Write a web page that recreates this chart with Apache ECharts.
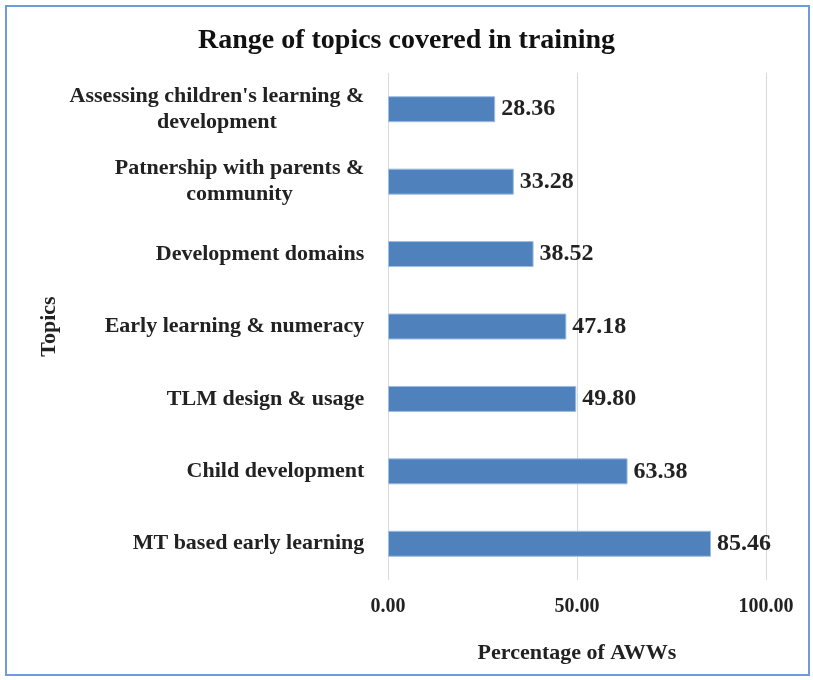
<!DOCTYPE html>
<html>
<head>
<meta charset="utf-8">
<script src="https://cdn.jsdelivr.net/npm/echarts@6/dist/echarts.min.js"></script>
<style>
    html, body { margin: 0; padding: 0; background: #fff; }
    #wrap { position: absolute; left: 5px; top: 5px; width: 801px; height: 667px; border: 2px solid #6f9bd8; }
    #chart { position: absolute; left: -7px; top: -7px; width: 813px; height: 680px; }
</style>
</head>
<body>
<div id="wrap"><div id="chart"></div></div>
<script>
// topics, bottom to top as they sit on the axis
var topics = [
    'MT based early learning',
    'Child development',
    'TLM design & usage',
    'Early learning & numeracy',
    'Development domains',
    'Patnership with parents &\ncommunity',
    "Assessing children's learning &\ndevelopment"
];
var percentages = [85.46, 63.38, 49.80, 47.18, 38.52, 33.28, 28.36];
var xTicks = [0, 50, 100];

var serif = '"Liberation Serif", "Times New Roman", serif';
var catSize = 22;

// multi-line labels: block sits right-aligned, lines centred inside it
var ctx = document.createElement('canvas').getContext('2d');
ctx.font = 'bold ' + catSize + 'px "Liberation Serif"';
var rich = {};
topics.forEach(function (t, i) {
    var w = Math.max.apply(null, t.split('\n').map(function (l) { return ctx.measureText(l).width; }));
    rich['c' + i] = {
        width: Math.ceil(w) + 1, align: 'center', lineHeight: 26,
        fontFamily: serif, fontSize: catSize, fontWeight: 'bold', color: '#222'
    };
});

var chart = echarts.init(document.getElementById('chart'));
chart.setOption({
    animation: false,
    title: {
        text: 'Range of topics covered in training',
        left: 'center',
        top: 22,
        textStyle: { fontFamily: serif, fontSize: 28, fontWeight: 'bold', color: '#111' }
    },
    grid: { left: 388, right: 47, top: 73, bottom: 100, containLabel: false },
    xAxis: {
        type: 'value',
        min: xTicks[0],
        max: xTicks[xTicks.length - 1],
        interval: 50,
        name: 'Percentage of AWWs',
        nameLocation: 'middle',
        nameGap: 62,
        nameTextStyle: { fontFamily: serif, fontSize: 22, fontWeight: 'bold', color: '#222' },
        axisLine: { show: false },
        axisTick: { show: false },
        axisLabel: {
            margin: 17,
            fontFamily: serif, fontSize: 20, fontWeight: 'bold', color: '#222',
            formatter: function (v) { return v.toFixed(2); }
        },
        splitLine: { lineStyle: { color: '#d9d9d9', width: 1 } }
    },
    yAxis: {
        type: 'category',
        data: topics,
        name: 'Topics',
        nameLocation: 'middle',
        nameRotate: 90,
        nameGap: 328,
        nameTextStyle: { fontFamily: serif, fontSize: 22, fontWeight: 'bold', color: '#222' },
        axisLine: { show: false },
        axisTick: { show: false },
        axisLabel: {
            margin: 23,
            rich: rich,
            formatter: function (v, i) {
                return v.split('\n').map(function (l) { return '{c' + i + '|' + l + '}'; }).join('\n');
            }
        }
    },
    series: [{
        type: 'bar',
        data: percentages,
        barWidth: 26,
        itemStyle: { color: '#4f81bd', borderColor: '#9dbde3', borderWidth: 1 },
        label: {
            show: true,
            position: 'right',
            distance: 6,
            fontFamily: serif, fontSize: 24, fontWeight: 'bold', color: '#222',
            formatter: function (p) { return p.value.toFixed(2); }
        }
    }]
});
</script>
</body>
</html>
